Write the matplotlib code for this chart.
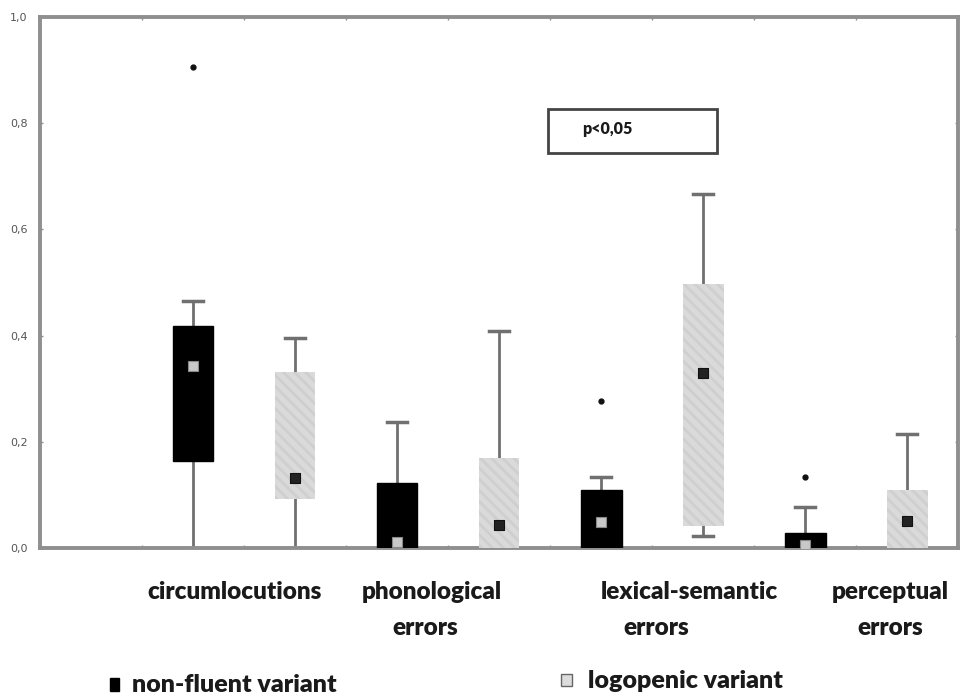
import matplotlib.pyplot as plt

# values (proportions)
categories = ["circumlocutions", "phonological\nerrors", "lexical-semantic\nerrors", "perceptual\nerrors"]
groups = ["non-fluent variant", "logopenic variant"]

nf_med = [0.343, 0.011, 0.050, 0.005]
nf_q1 = [0.164, 0.0, 0.0, 0.0]
nf_q3 = [0.418, 0.122, 0.109, 0.028]
nf_lo = [0.0, 0.0, 0.0, 0.0]
nf_hi = [0.465, 0.237, 0.134, 0.077]
nf_out = [[0.906], [], [0.277], [0.134]]

lv_med = [0.132, 0.043, 0.330, 0.051]
lv_q1 = [0.092, 0.0, 0.041, 0.0]
lv_q3 = [0.331, 0.170, 0.497, 0.109]
lv_lo = [0.0, 0.0, 0.023, 0.0]
lv_hi = [0.395, 0.409, 0.667, 0.215]
lv_out = [[], [], [], []]

y_ticks = [0.0, 0.2, 0.4, 0.6, 0.8, 1.0]

plt.rcParams["hatch.color"] = "#c8c8c8"
plt.rcParams["hatch.linewidth"] = 2.0

fig = plt.figure(figsize=(9.63, 7), dpi=100)
ax = fig.add_axes([0.0415, 0.217, 0.9535, 0.759])
frame = "#8f8f8f"
whisk = "#707070"
font = dict(family="Lato", fontweight="heavy", color="#1a1a1a")


def stats(med, q1, q3, lo, hi, out):
    return [dict(med=m, q1=a, q3=b, whislo=l, whishi=h, fliers=o)
            for m, a, b, l, h, o in zip(med, q1, q3, lo, hi, out)]


pos_nf = [1.5 + 2 * i for i in range(len(categories))]
pos_lv = [2.5 + 2 * i for i in range(len(categories))]

for st, pos, face, hatch, medc, mede in [
    (stats(nf_med, nf_q1, nf_q3, nf_lo, nf_hi, nf_out), pos_nf, "black", None, "#c8c8c8", "#888888"),
    (stats(lv_med, lv_q1, lv_q3, lv_lo, lv_hi, lv_out), pos_lv, "#dadada", "\\\\\\", "#222222", "#111111"),
]:
    bp = ax.bxp(st, positions=pos, widths=0.4, patch_artist=True, showcaps=True,
                boxprops=dict(facecolor=face, edgecolor=face, linewidth=1),
                whiskerprops=dict(color=whisk, linewidth=2),
                capprops=dict(color=whisk, linewidth=2.5),
                medianprops=dict(linewidth=0),
                flierprops=dict(marker="o", markersize=3.5, markerfacecolor="#111111",
                                markeredgecolor="#111111"),
                capwidths=0.2, zorder=2)
    for b in bp["boxes"]:
        b.set_zorder(3)
        if hatch:
            b.set_hatch(hatch)
            b.set_edgecolor("#cfcfcf")
            b.set_linewidth(0)
    ax.scatter(pos, [s["med"] for s in st], marker="s", s=50, color=medc,
               edgecolors=mede, linewidths=0.8, zorder=4)

ax.set_xlim(0, 9)
ax.set_ylim(0, 1.0)
ax.set_xticks(range(1, 9))
ax.set_xticklabels([])
ax.set_yticks(y_ticks)
ax.set_yticklabels([f"{v:.1f}".replace(".", ",") for v in y_ticks],
                   fontsize=8, color="#555555")
ax.tick_params(axis="both", length=2, width=1, color=frame, direction="in",
               top=True, right=True, pad=9)
for sp in ax.spines.values():
    sp.set_color(frame)
    sp.set_linewidth(2.8)

# p-value box
ax.text(0.59, 0.788, "p<0,05", transform=ax.transAxes, fontsize=11.5,
        va="center", ha="left", **font)
ax.add_patch(plt.Rectangle((0.553, 0.743), 0.184, 0.084, transform=ax.transAxes,
                           fill=False, edgecolor="#444444", linewidth=2, zorder=5))

# category labels, one line at a time (pixel centres of each line)
line1_x = [235, 432, 689, 890]
line2_x = [235, 425, 656, 890]
line_y = [592, 628]
for x1, x2, lab in zip(line1_x, line2_x, categories):
    for x, y, part in zip([x1, x2], line_y, lab.split("\n")):
        fig.text(x / 963, 1 - y / 700, part, ha="center", va="center",
                 fontsize=17.5, **font)

# legend
fig.text(132 / 963, 1 - 685 / 700, groups[0], fontsize=18, va="center", **font)
fig.text(588 / 963, 1 - 681 / 700, groups[1], fontsize=18, va="center", **font)
fig.patches.append(plt.Rectangle((110 / 963, 1 - 691 / 700), 9 / 963, 13 / 700,
                                 transform=fig.transFigure, facecolor="black",
                                 edgecolor="black", figure=fig))
fig.patches.append(plt.Rectangle((561 / 963, 1 - 686 / 700), 11 / 963, 12 / 700,
                                 transform=fig.transFigure, facecolor="#dcdcdc",
                                 edgecolor="#666666", linewidth=1, figure=fig))

fig.savefig("out.png", dpi=100)
